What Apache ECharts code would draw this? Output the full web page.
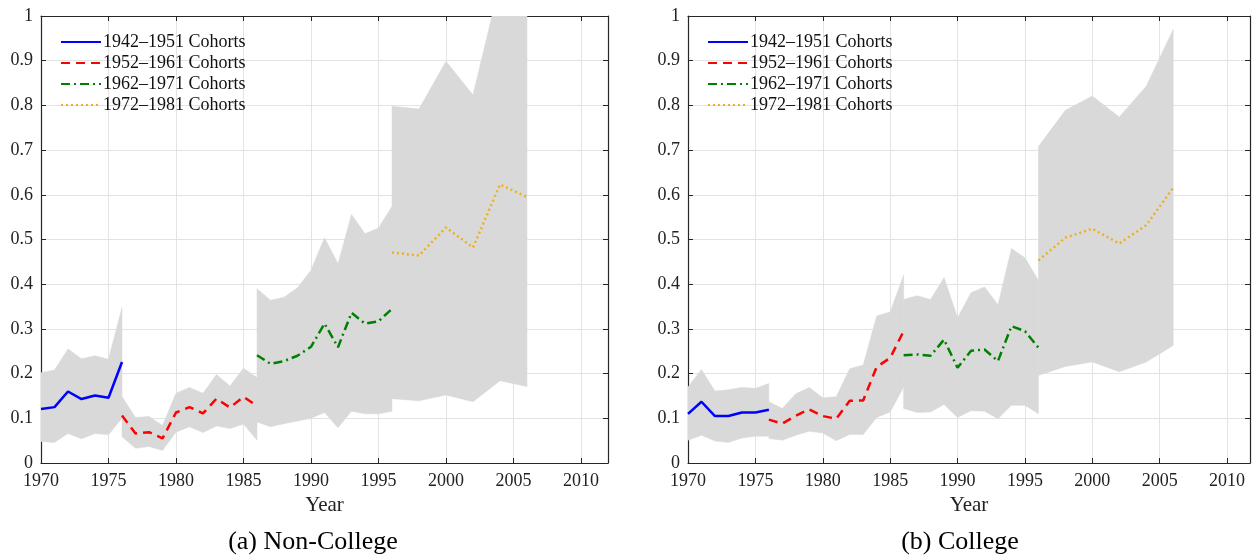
<!DOCTYPE html>
<html>
<head>
<meta charset="utf-8">
<script src="https://cdn.jsdelivr.net/npm/echarts@6/dist/echarts.min.js"></script>
<style>
html,body{margin:0;padding:0;background:#fff;}
#chart{width:1255px;height:557px;}
</style>
</head>
<body>
<div id="chart"></div>
<script>
// ---- data ----
var cohortNames = ['1942\u20131951 Cohorts', '1952\u20131961 Cohorts', '1962\u20131971 Cohorts', '1972\u20131981 Cohorts'];
var yearsC1 = [1970, 1971, 1972, 1973, 1974, 1975, 1976];
var yearsC2 = [1976, 1977, 1978, 1979, 1980, 1981, 1982, 1983, 1984, 1985, 1986];
var yearsC3 = [1986, 1987, 1988, 1989, 1990, 1991, 1992, 1993, 1994, 1995, 1996];
var yearsC4 = [1996, 1998, 2000, 2002, 2004, 2006];
var panelTitles = ['(a) Non-College', '(b) College'];
var xTickLabels = ['1970', '1975', '1980', '1985', '1990', '1995', '2000', '2005', '2010'];

// Non-College
var ncC1 = [0.121, 0.125, 0.160, 0.143, 0.151, 0.146, 0.226];
var ncC1Hi = [0.202, 0.208, 0.255, 0.233, 0.240, 0.232, 0.348];
var ncC1Lo = [0.048, 0.046, 0.066, 0.054, 0.066, 0.063, 0.100];
var ncC2 = [0.106, 0.066, 0.069, 0.055, 0.113, 0.125, 0.111, 0.144, 0.124, 0.148, 0.128];
var ncC2Hi = [0.149, 0.102, 0.104, 0.084, 0.156, 0.169, 0.156, 0.198, 0.172, 0.212, 0.191];
var ncC2Lo = [0.059, 0.033, 0.037, 0.028, 0.069, 0.081, 0.068, 0.083, 0.077, 0.087, 0.051];
var ncC3 = [0.241, 0.222, 0.228, 0.240, 0.260, 0.312, 0.259, 0.336, 0.312, 0.317, 0.345];
var ncC3Hi = [0.390, 0.364, 0.371, 0.392, 0.431, 0.504, 0.446, 0.556, 0.513, 0.526, 0.574];
var ncC3Lo = [0.092, 0.081, 0.088, 0.094, 0.100, 0.113, 0.079, 0.116, 0.110, 0.110, 0.116];
var ncC4 = [0.471, 0.464, 0.527, 0.482, 0.623, 0.595];
var ncC4Hi = [0.798, 0.792, 0.899, 0.823, 1.075, 1.080];
var ncC4Lo = [0.144, 0.139, 0.152, 0.137, 0.184, 0.171];

// College
var colC1 = [0.110, 0.137, 0.105, 0.105, 0.113, 0.113, 0.119];
var colC1Hi = [0.170, 0.209, 0.161, 0.164, 0.169, 0.167, 0.178];
var colC1Lo = [0.051, 0.062, 0.049, 0.046, 0.056, 0.060, 0.060];
var colC2 = [0.097, 0.088, 0.106, 0.120, 0.105, 0.099, 0.139, 0.140, 0.215, 0.235, 0.295];
var colC2Hi = [0.137, 0.122, 0.155, 0.169, 0.146, 0.148, 0.211, 0.219, 0.329, 0.338, 0.420];
var colC2Lo = [0.055, 0.051, 0.062, 0.071, 0.067, 0.050, 0.064, 0.064, 0.102, 0.114, 0.170];
var colC3 = [0.241, 0.243, 0.240, 0.276, 0.213, 0.251, 0.254, 0.228, 0.306, 0.295, 0.258];
var colC3Hi = [0.366, 0.374, 0.366, 0.415, 0.325, 0.381, 0.394, 0.354, 0.480, 0.459, 0.409];
var colC3Lo = [0.122, 0.113, 0.114, 0.131, 0.102, 0.117, 0.116, 0.099, 0.129, 0.129, 0.110];
var colC4 = [0.453, 0.504, 0.524, 0.491, 0.532, 0.616];
var colC4Hi = [0.708, 0.789, 0.821, 0.774, 0.843, 0.970];
var colC4Lo = [0.196, 0.216, 0.226, 0.204, 0.226, 0.263];

// ---- styling ----
var SERIF = '"Liberation Serif", "DejaVu Serif", serif';
var AX = '#262626';
var GRIDC = '#e3e3e3';
var BAND = '#d9d9d9';
var lineStyles = [
  {color: '#0000ff', width: 2.5, type: 'solid'},
  {color: '#ff0000', width: 2.5, type: [9, 6]},
  {color: '#008000', width: 2.5, type: [9, 4, 2, 4]},
  {color: '#edb120', width: 2.5, type: [2, 3]}
];

var panels = [
  {years: [yearsC1, yearsC2, yearsC3, yearsC4],
   mid: [ncC1, ncC2, ncC3, ncC4], hi: [ncC1Hi, ncC2Hi, ncC3Hi, ncC4Hi], lo: [ncC1Lo, ncC2Lo, ncC3Lo, ncC4Lo]},
  {years: [yearsC1, yearsC2, yearsC3, yearsC4],
   mid: [colC1, colC2, colC3, colC4], hi: [colC1Hi, colC2Hi, colC3Hi, colC4Hi], lo: [colC1Lo, colC2Lo, colC3Lo, colC4Lo]}
];

var grids = [
  {left: 41, top: 16, width: 567, height: 447},
  {left: 688, top: 16, width: 562, height: 447}
];
var xMax = [2012, 2011.7];

var xAxes = [], yAxes = [], series = [], legends = [], titles = [];
grids.forEach(function (g, gi) {
  xAxes.push({
    type: 'value', gridIndex: gi, min: 1970, max: xMax[gi], interval: 5, position: 'bottom',
    axisLine: {show: true, onZero: false, lineStyle: {color: AX, width: 1.2}},
    axisTick: {show: true, inside: true, length: 5, lineStyle: {color: AX}},
    axisLabel: {show: true, color: '#222', fontFamily: SERIF, fontSize: 18, margin: 9,
      formatter: function (v) { var s = String(v); return xTickLabels.indexOf(s) >= 0 ? s : ''; }},
    splitLine: {show: true, lineStyle: {color: GRIDC, width: 1}},
    name: 'Year', nameLocation: 'middle', nameGap: 31,
    nameTextStyle: {color: '#222', fontFamily: SERIF, fontSize: 21}
  });
  xAxes.push({
    type: 'value', gridIndex: gi, min: 1970, max: xMax[gi], interval: 5, position: 'top',
    axisLine: {show: true, onZero: false, lineStyle: {color: AX, width: 1.2}},
    axisTick: {show: true, inside: true, length: 5, lineStyle: {color: AX}},
    axisLabel: {show: false}, splitLine: {show: false}
  });
  yAxes.push({
    type: 'value', gridIndex: gi, min: 0, max: 1, interval: 0.1, position: 'left',
    axisLine: {show: true, onZero: false, lineStyle: {color: AX, width: 1.2}},
    axisTick: {show: true, inside: true, length: 5, lineStyle: {color: AX}},
    axisLabel: {show: true, color: '#222', fontFamily: SERIF, fontSize: 18, margin: 8},
    splitLine: {show: true, lineStyle: {color: GRIDC, width: 1}}
  });
  yAxes.push({
    type: 'value', gridIndex: gi, min: 0, max: 1, interval: 0.1, position: 'right',
    axisLine: {show: true, onZero: false, lineStyle: {color: AX, width: 1.2}},
    axisTick: {show: true, inside: true, length: 5, lineStyle: {color: AX}},
    axisLabel: {show: false}, splitLine: {show: false}
  });

  var p = panels[gi];
  // bands
  for (var c = 0; c < 4; c++) {
    (function (yrs, hi, lo) {
      series.push({
        type: 'custom', xAxisIndex: gi * 2, yAxisIndex: gi * 2, silent: true, clip: true, z: 1,
        data: [[yrs[0], lo[0]]],
        renderItem: function (params, api) {
          var pts = [];
          for (var i = 0; i < yrs.length; i++) pts.push(api.coord([yrs[i], hi[i]]));
          for (var j = yrs.length - 1; j >= 0; j--) pts.push(api.coord([yrs[j], lo[j]]));
          var cs = params.coordSys;
          return {
            type: 'group',
            clipPath: {type: 'rect', shape: {x: cs.x, y: cs.y, width: cs.width, height: cs.height}},
            children: [{type: 'polygon', shape: {points: pts}, style: {fill: BAND, stroke: BAND, lineWidth: 0.5}}]
          };
        }
      });
    })(p.years[c], p.hi[c], p.lo[c]);
  }
  // lines
  for (var k = 0; k < 4; k++) {
    var yrs = p.years[k], vals = p.mid[k];
    series.push({
      name: cohortNames[k], type: 'line', xAxisIndex: gi * 2, yAxisIndex: gi * 2,
      data: yrs.map(function (y, i) { return [y, vals[i]]; }),
      symbol: 'none', showSymbol: false, z: 5,
      lineStyle: lineStyles[k], itemStyle: {color: lineStyles[k].color}
    });
  }
  legends.push({
    data: cohortNames, orient: 'vertical', left: g.left + 19, top: 33, padding: 0,
    itemWidth: 40, itemHeight: 14, itemGap: 3, selectedMode: false,
    itemStyle: {opacity: 0},
    textStyle: {fontFamily: SERIF, fontSize: 18, color: '#111', padding: [0, 0, 0, -3]}
  });
});

titles.push({text: panelTitles[0], left: 308, top: 524, textAlign: 'center',
  textStyle: {fontFamily: SERIF, fontSize: 26, fontWeight: 'normal', color: '#000'}});
titles.push({text: panelTitles[1], left: 955, top: 524, textAlign: 'center',
  textStyle: {fontFamily: SERIF, fontSize: 26, fontWeight: 'normal', color: '#000'}});

var chart = echarts.init(document.getElementById('chart'), null, {renderer: 'canvas'});
chart.setOption({
  animation: false,
  backgroundColor: '#fff',
  title: titles,
  grid: grids,
  xAxis: xAxes,
  yAxis: yAxes,
  legend: legends,
  series: series
});
</script>
</body>
</html>
